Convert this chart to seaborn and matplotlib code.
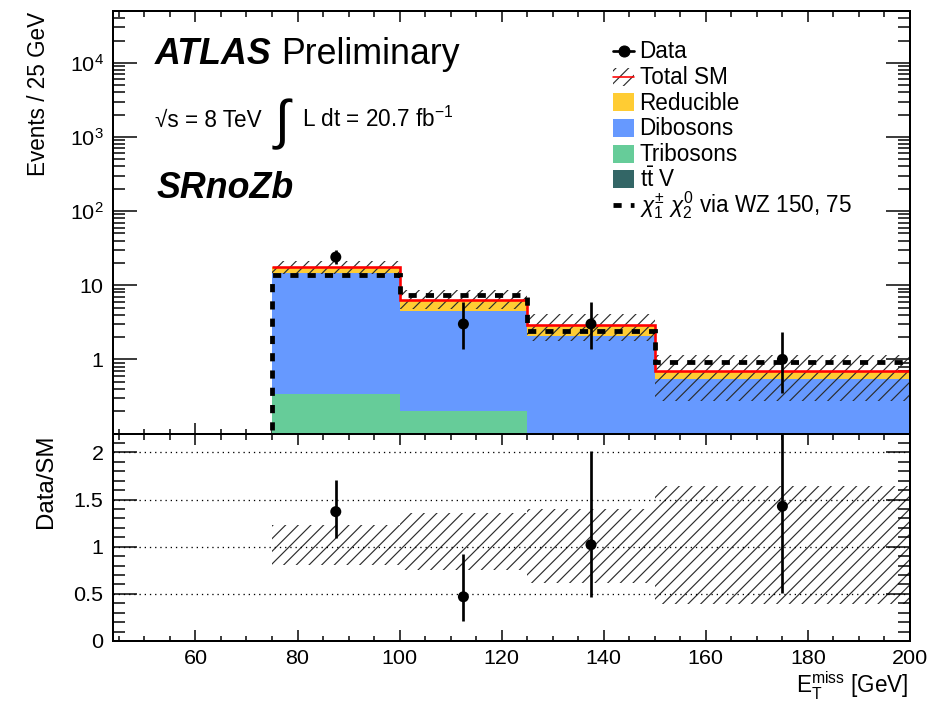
import numpy as np
import matplotlib
matplotlib.use("Agg")
import matplotlib.pyplot as plt
import seaborn as sns
from matplotlib.lines import Line2D
from matplotlib.patches import Rectangle
from matplotlib.transforms import Affine2D
from matplotlib.ticker import (FixedLocator, FixedFormatter, MultipleLocator,
                               LogLocator, NullFormatter, FuncFormatter)

# ---------------------------------------------------------------- data
# E_T^miss binning [GeV]
bin_edges = [75, 100, 125, 150, 200]
bin_centres = [87.5, 112.5, 137.5, 175.0]

# SM backgrounds, events / 25 GeV, stacked bottom -> top
ttv = [0.01, 0.01, 0.01, 0.005]
tribosons = [0.33, 0.19, 0.04, 0.02]
dibosons = [14.16, 4.27, 2.01, 0.525]
reducible = [3.00, 1.93, 0.88, 0.15]

# relative uncertainty band on the total SM prediction
band_lo = [0.805, 0.755, 0.61, 0.39]
band_hi = [1.23, 1.36, 1.40, 1.64]

# signal: chi1+- chi20 via WZ, m = (150, 75) GeV
signal = [13.9, 7.34, 2.40, 0.93]

# observed data with 68% Poisson intervals
data = [24.0, 3.0, 3.0, 1.0]
data_lo = [19.14, 1.37, 1.37, 0.356]
data_hi = [29.96, 5.91, 5.91, 2.31]

y_ticks = [1, 10, 100, 1000, 10000]
y_tick_labels = ["1", "10", "$10^{2}$", "$10^{3}$", "$10^{4}$"]

# ---------------------------------------------------------------- style
W, H, DPI = 951, 703, 76


def pt(px):
    return px * 72.0 / DPI


sns.set_theme(style="ticks")
plt.rcParams["font.family"] = ["Liberation Sans", "DejaVu Sans"]
plt.rcParams.update({
    "mathtext.fontset": "custom",
    "mathtext.rm": "Liberation Sans",
    "mathtext.it": "Liberation Sans:italic",
    "mathtext.bf": "Liberation Sans:bold",
    "mathtext.sf": "Liberation Sans",
    "hatch.linewidth": 1.1,
    "axes.linewidth": pt(2.0),
    "axes.edgecolor": "black",
    "xtick.color": "black",
    "ytick.color": "black",
    "text.color": "black",
})

c_reducible = "#FFCC33"
c_dibosons = "#6699FF"
c_tribosons = "#66CC99"
c_ttv = "#336666"
c_hatch = "#2b2b2b"
hatch = "//"
sig_ls = (0, (1.7, 1.9))
sig_lw = pt(4.8)

edges = np.array(bin_edges, dtype=float)
layers = [("t$\\bar{\\mathrm{t}}$ V", np.array(ttv), c_ttv),
          ("Tribosons", np.array(tribosons), c_tribosons),
          ("Dibosons", np.array(dibosons), c_dibosons),
          ("Reducible", np.array(reducible), c_reducible)]
total = sum(v for _, v, _ in layers)

xmin, xmax = 43.75, 200.0

fig = plt.figure(figsize=(W / DPI, H / DPI), dpi=DPI)
fig.patch.set_facecolor("white")
ax = fig.add_axes([112.5 / W, 1 - 433.5 / H, 797.5 / W, (433.5 - 11) / H])
rax = fig.add_axes([112.5 / W, 1 - 641 / H, 797.5 / W, (641 - 433.5) / H])

# ---------------------------------------------------------------- main panel
base = np.full(len(total), 1e-3)
for name, vals, col in layers:
    top = base + vals
    ax.stairs(top, edges, baseline=base, fill=True, color=col, lw=0, zorder=1)
    base = top

ax.stairs(total * np.array(band_hi), edges, baseline=total * np.array(band_lo),
          fill=True, facecolor="none", edgecolor=c_hatch, hatch=hatch, lw=0, zorder=2)
ax.stairs(total, edges, baseline=None, color="red", lw=pt(2.6), zorder=3)

ax.stairs(np.r_[1e-3, signal], np.r_[xmin, edges], baseline=None,
          color="black", lw=sig_lw, ls=sig_ls, zorder=4)

d = np.array(data)
ax.errorbar(bin_centres, d, yerr=[d - np.array(data_lo), np.array(data_hi) - d],
            fmt="none", ecolor="black", elinewidth=pt(2.7), capsize=0, zorder=5)
sns.scatterplot(x=bin_centres, y=data, ax=ax, color="black", s=pt(11) ** 2,
                edgecolor="none", zorder=6, legend=False)

ax.set_yscale("log")
ax.set_ylim(0.1, 5e4)
ax.set_xlim(xmin, xmax)
ax.yaxis.set_major_locator(FixedLocator(y_ticks))
ax.yaxis.set_major_formatter(FixedFormatter(y_tick_labels))
ax.yaxis.set_minor_locator(LogLocator(base=10, subs=np.arange(2, 10)))
ax.yaxis.set_minor_formatter(NullFormatter())
ax.tick_params(axis="x", labelbottom=False)

# ---------------------------------------------------------------- ratio panel
ratio = d / total
r_lo = np.array(data_lo) / total
r_hi = np.array(data_hi) / total

rax.set_axisbelow(False)
rax.grid(axis="y", which="major", color="black", ls=(0, (1, 3)), lw=pt(1.3))
rax.stairs(band_hi, edges, baseline=band_lo, fill=True, facecolor="none",
           edgecolor=c_hatch, hatch=hatch, lw=0, zorder=2)
rax.errorbar(bin_centres, ratio, yerr=[ratio - r_lo, r_hi - ratio], fmt="none",
             ecolor="black", elinewidth=pt(2.7), capsize=0, zorder=5)
sns.scatterplot(x=bin_centres, y=ratio, ax=rax, color="black", s=pt(11) ** 2,
                edgecolor="none", zorder=6, legend=False)
rax.set_xlim(xmin, xmax)
rax.set_ylim(0, 2.2)
rax.yaxis.set_major_locator(MultipleLocator(0.5))
rax.yaxis.set_minor_locator(MultipleLocator(0.1))
rax.yaxis.set_major_formatter(FuncFormatter(lambda v, p: f"{v:g}"))

for a in (ax, rax):
    a.set_xlabel("")
    a.set_ylabel("")
    a.xaxis.set_major_locator(MultipleLocator(20))
    a.xaxis.set_minor_locator(MultipleLocator(5))
    a.tick_params(which="both", direction="in", top=True, right=True,
                  width=pt(1.5), labelsize=pt(21.5), pad=pt(9))
    a.tick_params(axis="x", which="major", length=pt(11))
    a.tick_params(axis="x", which="minor", length=pt(5.5))
    a.tick_params(axis="y", which="major", length=pt(24))
    a.tick_params(axis="y", which="minor", length=pt(12))
    for s in a.spines.values():
        s.set_zorder(10)
rax.tick_params(axis="x", pad=pt(8))

# ---------------------------------------------------------------- labels
lab = pt(22.5)
fig.text(39 / W, 1 - 12 / H, "Events / 25 GeV", rotation=90, ha="center",
         va="top", fontsize=lab)
fig.text(46 / W, 1 - 434 / H, "Data/SM", rotation=90, ha="center",
         va="top", fontsize=pt(24))
fig.text(908 / W, 1 - 694 / H, "E$_{\\mathrm{T}}^{\\mathrm{miss}}$ [GeV]",
         ha="right", va="baseline", fontsize=lab)

big = pt(35.7)
fig.text(155 / W, 1 - 64 / H, "ATLAS", fontsize=big, fontweight="bold",
         fontstyle="italic", va="baseline")
fig.text(281 / W, 1 - 64 / H, "Preliminary", fontsize=big, va="baseline")
fig.text(155 / W, 1 - 127 / H, "\u221as = 8 TeV", fontsize=pt(22.5), va="baseline")
fig.text(275 / W, 1 - 138 / H, "\u222b", fontsize=pt(54), va="baseline")
fig.text(302 / W, 1 - 127 / H, "L dt = 20.7 fb$^{-1}$", fontsize=pt(22.5),
         va="baseline")
fig.text(157 / W, 1 - 198 / H, "SRnoZb", fontsize=big, fontweight="bold",
         fontstyle="italic", va="baseline")

# ---------------------------------------------------------------- legend
# laid out in figure pixels (origin top-left)
pix = Affine2D().scale(1 / W, -1 / H).translate(0, 1) + fig.transFigure
key_x, key_w, key_h = 612.7, 21.7, 18.0
text_x = 639.5
first_baseline, pitch = 58.3, 25.7

entries = [
    ("Data", "data", None),
    ("Total SM", "band", None),
    ("Reducible", "box", c_reducible),
    ("Dibosons", "box", c_dibosons),
    ("Tribosons", "box", c_tribosons),
    ("t$\\bar{\\mathrm{t}}$ V", "box", c_ttv),
    ("$\\chi_{1}^{\\pm}$ $\\chi_{2}^{0}$ via WZ 150, 75", "signal", None),
]
for i, (label, kind, col) in enumerate(entries):
    yb = first_baseline + i * pitch
    yc = yb - 7.5
    if kind == "data":
        fig.add_artist(Line2D([key_x, key_x + key_w], [yc, yc], transform=pix,
                              color="black", lw=pt(2.7)))
        fig.add_artist(Line2D([key_x + key_w / 2], [yc], transform=pix,
                              color="black", marker="o", ms=pt(11), lw=0))
    elif kind == "band":
        fig.add_artist(Rectangle((key_x, yc - key_h / 2), key_w, key_h,
                                 transform=pix, facecolor="none",
                                 edgecolor=c_hatch, hatch=hatch, lw=0))
        fig.add_artist(Line2D([key_x, key_x + key_w], [yc, yc], transform=pix,
                              color="red", lw=pt(1.6)))
    elif kind == "box":
        fig.add_artist(Rectangle((key_x, yc - key_h / 2), key_w, key_h,
                                 transform=pix, facecolor=col, lw=0))
    else:
        fig.add_artist(Line2D([key_x, key_x + key_w], [yc, yc], transform=pix,
                              color="black", lw=sig_lw, ls=sig_ls,
                              solid_capstyle="butt", dash_capstyle="butt"))
    fig.text(text_x / W, 1 - yb / H, label, va="baseline", fontsize=pt(22.5))

fig.savefig("out.png", dpi=DPI, facecolor="white")
